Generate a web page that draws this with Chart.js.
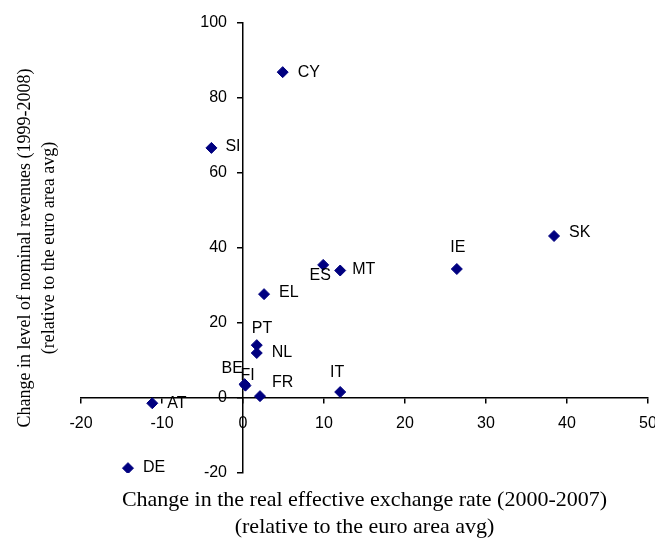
<!DOCTYPE html>
<html>
<head>
<meta charset="utf-8">
<script src="https://cdn.jsdelivr.net/npm/chart.js@4"></script>
<style>
  body { margin: 0; background: #fff; }
  #wrap { width: 655px; height: 543px; }
</style>
</head>
<body>
<div id="wrap"><canvas id="grafica" width="655" height="543"></canvas></div>
<script>
// country codes and values
var paises = ['CY', 'SI', 'SK', 'IE', 'MT', 'ES', 'EL', 'PT', 'NL', 'BE', 'FI', 'FR', 'IT', 'AT', 'DE'];
var tipoCambio = [4.9, -3.9, 38.4, 26.4, 12.0, 9.9, 2.6, 1.7, 1.7, 0.2, 0.3, 2.1, 12.0, -11.2, -14.2];
var ingresos = [86.9, 66.7, 43.2, 34.4, 34.0, 35.5, 27.7, 14.1, 12.0, 3.7, 3.3, 0.5, 1.6, -1.4, -18.7];
var ticksX = [-20, -10, 0, 10, 20, 30, 40, 50];
var ticksY = [-20, 0, 20, 40, 60, 80, 100];

var tituloX = ['Change in the real effective exchange rate (2000-2007)', '(relative to the euro area avg)'];
var tituloY = ['Change in level of nominal revenues (1999-2008)', '(relative to the euro area avg)'];

// where each label sits next to its point: [dx, dy, align]
var posEtiqueta = {
    CY: [15, 0, 'left'], SI: [14, -1, 'left'], SK: [15, -3, 'left'], IE: [1, -21, 'center'],
    MT: [12, -1, 'left'], ES: [-3, 11, 'center'], EL: [15, -2, 'left'], PT: [-5, -17, 'left'],
    NL: [15, 0, 'left'], BE: [-23, -16, 'left'], FI: [-5, -10, 'left'], FR: [12, -14, 'left'],
    IT: [-3, -19, 'center'], AT: [15, 0, 'left'], DE: [15, -1, 'left']
};

var puntos = [];
for (var i = 0; i < paises.length; i++) {
    puntos.push({ x: tipoCambio[i], y: ingresos[i] });
}

var fuenteTicks = { family: 'Liberation Sans', size: 16 };

var etiquetas = {
    id: 'etiquetas',
    afterDatasetsDraw: function (chart) {
        var ctx = chart.ctx;
        var meta = chart.getDatasetMeta(0);
        var area = chart.chartArea;
        ctx.save();
        ctx.fillStyle = '#000';
        ctx.font = '16px "Liberation Sans"';
        ctx.textBaseline = 'middle';
        for (var i = 0; i < paises.length; i++) {
            var p = meta.data[i];
            var pos = posEtiqueta[paises[i]];
            ctx.textAlign = pos[2];
            ctx.fillText(paises[i], p.x + pos[0], p.y + pos[1]);
        }
        // axis titles, centred on the plot area
        ctx.textAlign = 'center';
        ctx.font = '22px "Liberation Serif"';
        var cx = (area.left + area.right) / 2;
        ctx.fillText(tituloX[0], cx, 500);
        ctx.fillText(tituloX[1], cx, 527);
        var cy = (area.top + area.bottom) / 2;
        ctx.font = '18px "Liberation Serif"';
        ctx.save();
        ctx.translate(25, cy);
        ctx.rotate(-Math.PI / 2);
        ctx.fillText(tituloY[0], 0, 0);
        ctx.restore();
        ctx.save();
        ctx.translate(49, cy);
        ctx.rotate(-Math.PI / 2);
        ctx.fillText(tituloY[1], 0, 0);
        ctx.restore();
        ctx.restore();
    }
};

// the axes sit inside the plot, so their labels must not shrink it
function sinRelleno(scale) {
    scale.paddingLeft = 0;
    scale.paddingRight = 0;
    scale.paddingTop = 0;
    scale.paddingBottom = 0;
}

var ctx = document.getElementById('grafica').getContext('2d');
var miGrafica = new Chart(ctx, {
    type: 'scatter',
    data: {
        datasets: [{
            label: 'Revenues',
            data: puntos,
            pointStyle: 'rectRot',
            pointRadius: 5.5,
            pointBackgroundColor: '#000080',
            pointBorderColor: '#000080',
            pointBorderWidth: 1
        }]
    },
    options: {
        responsive: false,
        animation: false,
        layout: { padding: { left: 81, top: 23, right: 7, bottom: 70 } },
        plugins: { legend: { display: false }, tooltip: { enabled: false } },
        scales: {
            x: {
                type: 'linear',
                min: ticksX[0],
                max: ticksX[ticksX.length - 1],
                position: { y: 0 },
                afterBuildTicks: function (axis) {
                    axis.ticks = ticksX.map(function (v) { return { value: v }; });
                },
                afterFit: sinRelleno,
                ticks: { color: '#000', font: fuenteTicks, padding: 11, maxRotation: 0 },
                grid: { drawOnChartArea: false, tickLength: 5, color: '#000', lineWidth: 1.5 },
                border: { color: '#000', width: 1.5 }
            },
            y: {
                type: 'linear',
                min: ticksY[0],
                max: ticksY[ticksY.length - 1],
                position: { x: 0 },
                afterBuildTicks: function (axis) {
                    axis.ticks = ticksY.map(function (v) { return { value: v }; });
                },
                afterFit: sinRelleno,
                ticks: {
                    color: '#000',
                    font: fuenteTicks,
                    // labels of an axis placed at x=0 get no padding, so push them off the line
                    callback: function (v) { return v + '\u2002\u2002'; }
                },
                grid: { drawOnChartArea: false, tickLength: 5, color: '#000', lineWidth: 1.5 },
                border: { color: '#000', width: 1.5 }
            }
        }
    },
    plugins: [etiquetas]
});
</script>
</body>
</html>
